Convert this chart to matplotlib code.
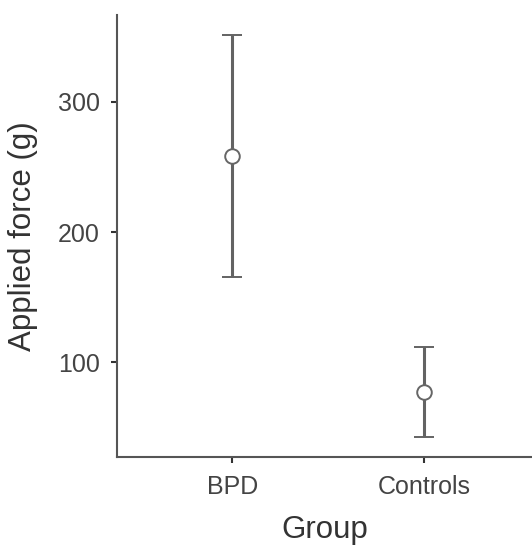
import matplotlib
matplotlib.use("Agg")
import matplotlib.pyplot as plt

groups = ["BPD", "Controls"]
means = [258.3, 77.0]
upper = [351.2, 111.7]
lower = [165.7, 42.9]

plt.rcParams['font.family'] = ['Liberation Sans', 'DejaVu Sans']

fig = plt.figure(figsize=(5.32, 5.47), dpi=100)
ax = fig.add_axes([117/532, (547-456.7)/547, 1 - 117/532, (456.7-15)/547])

x = list(range(len(groups)))
yerr = [[m - l for m, l in zip(means, lower)], [u - m for m, u in zip(means, upper)]]
ax.errorbar(x, means, yerr=yerr, fmt='o', color='#636363', ecolor='#636363',
            elinewidth=2.2, capsize=7, capthick=2.2, markersize=10.5,
            markerfacecolor='white', markeredgecolor='#666666', markeredgewidth=1.4, zorder=3)

ax.set_xlim(-0.6, 1.5625)
ax.set_ylim(27.6, 366.5)
ax.set_xticks(x)
ax.set_xticklabels(groups)
ax.set_yticks([100, 200, 300])

for s in ['top', 'right']:
    ax.spines[s].set_visible(False)
for s in ['left', 'bottom']:
    ax.spines[s].set_color('#555555')
    ax.spines[s].set_linewidth(1.5)

ax.tick_params(axis='both', colors='#333333', labelcolor='#444444', labelsize=18,
               length=4.5, width=1.5)
ax.tick_params(axis='x', pad=9)
ax.tick_params(axis='y', pad=8)

ax.set_xlabel('Group', fontsize=22.5, color='#333333', labelpad=11)
ax.set_ylabel('Applied force (g)', fontsize=22.5, color='#333333', labelpad=14)

fig.savefig('out.png', dpi=100)
